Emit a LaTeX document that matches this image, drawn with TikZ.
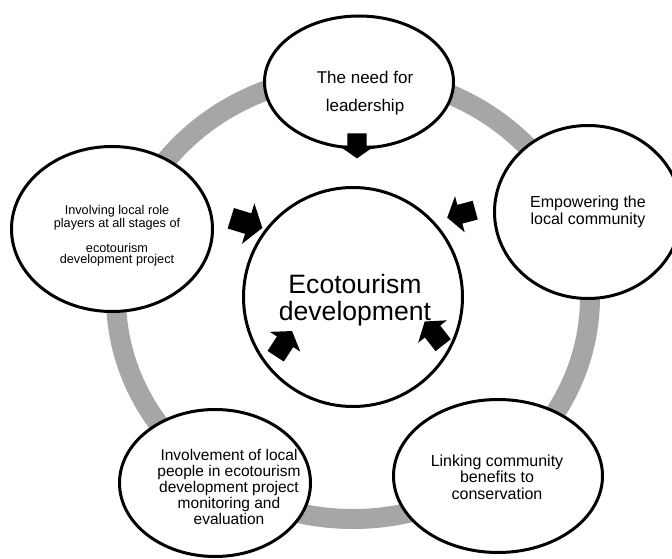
\documentclass[tikz,border=0pt]{standalone}
\usepackage{fontspec}
\setmainfont{Liberation Sans}
\usetikzlibrary{shapes.geometric,shapes.arrows}

\definecolor{ringgray}{RGB}{166,166,166}

\tikzset{
  oval/.style={ellipse, draw=black, line width=3pt, fill=white, inner sep=0pt},
  blockarrow/.style={single arrow, fill=black, inner xsep=0pt, inner ysep=9.5pt,
    minimum height=30pt, single arrow head extend=8.5pt, single arrow tip angle=110},
  lbl/.style={align=center, inner sep=0pt}
}

\begin{document}
\begin{tikzpicture}[x=1pt,y=-1pt]

  \useasboundingbox (0,0) rectangle (672,559);

  \coordinate (mid) at (353,297);
  \draw[ringgray, line width=20pt] (mid) ellipse [x radius=237, y radius=222];

  \node[oval, minimum width=189pt, minimum height=132pt] (need) at (359,82) {};
  \node[oval, minimum width=187pt, minimum height=173pt] (power) at (588,212) {};
  \node[oval, minimum width=201pt, minimum height=165pt] (roles) at (112,229) {};
  \node[oval, minimum width=191pt, minimum height=147pt] (monitor) at (215,483) {};
  \node[oval, minimum width=209pt, minimum height=153pt] (link) at (498,476) {};

  \node[circle, draw=black, line width=3pt, fill=white, minimum size=219pt] (hub) at (mid) {};

  \node[lbl, font=\fontsize{26.6}{27}\selectfont] (hubtxt) at (355,300) {Ecotourism\\development};
  \node[lbl, font=\fontsize{17}{28}\selectfont] (needtxt) at (365,93) {The need for\\leadership};
  \node[lbl, font=\fontsize{16}{17.5}\selectfont] (powertxt) at (588,212) {Empowering the\\local community};
  \node[lbl, font=\fontsize{12.7}{11.5}\selectfont] (rolestxt) at (117,236)
    {Involving local role\\players at all stages of\\[11.5pt]ecotourism\\development project};
  \node[lbl, font=\fontsize{15.5}{16}\selectfont] (monitortxt) at (229,487)
    {Involvement of local\\people in ecotourism\\development project\\monitoring and\\evaluation};
  \node[lbl, font=\fontsize{16}{16.7}\selectfont] (linktxt) at (497,477)
    {Linking community\\benefits to\\conservation};

  % arrows pointing into the hub
  \node[blockarrow, rotate=-90, minimum height=25pt] (fromneed) at (357,142.5) {};
  \node[blockarrow, rotate=-17, minimum height=33pt, inner ysep=10.5pt,
    single arrow head extend=10.5pt] (fromroles) at (243,222) {};
  \node[blockarrow, rotate=195, minimum height=29pt, single arrow head extend=9pt] (frompower) at (464.5,213) {};
  \node[blockarrow, rotate=57] (frommonitor) at (282,346.5) {};
  \node[blockarrow, rotate=128] (fromlink) at (436,336) {};

\end{tikzpicture}
\end{document}
